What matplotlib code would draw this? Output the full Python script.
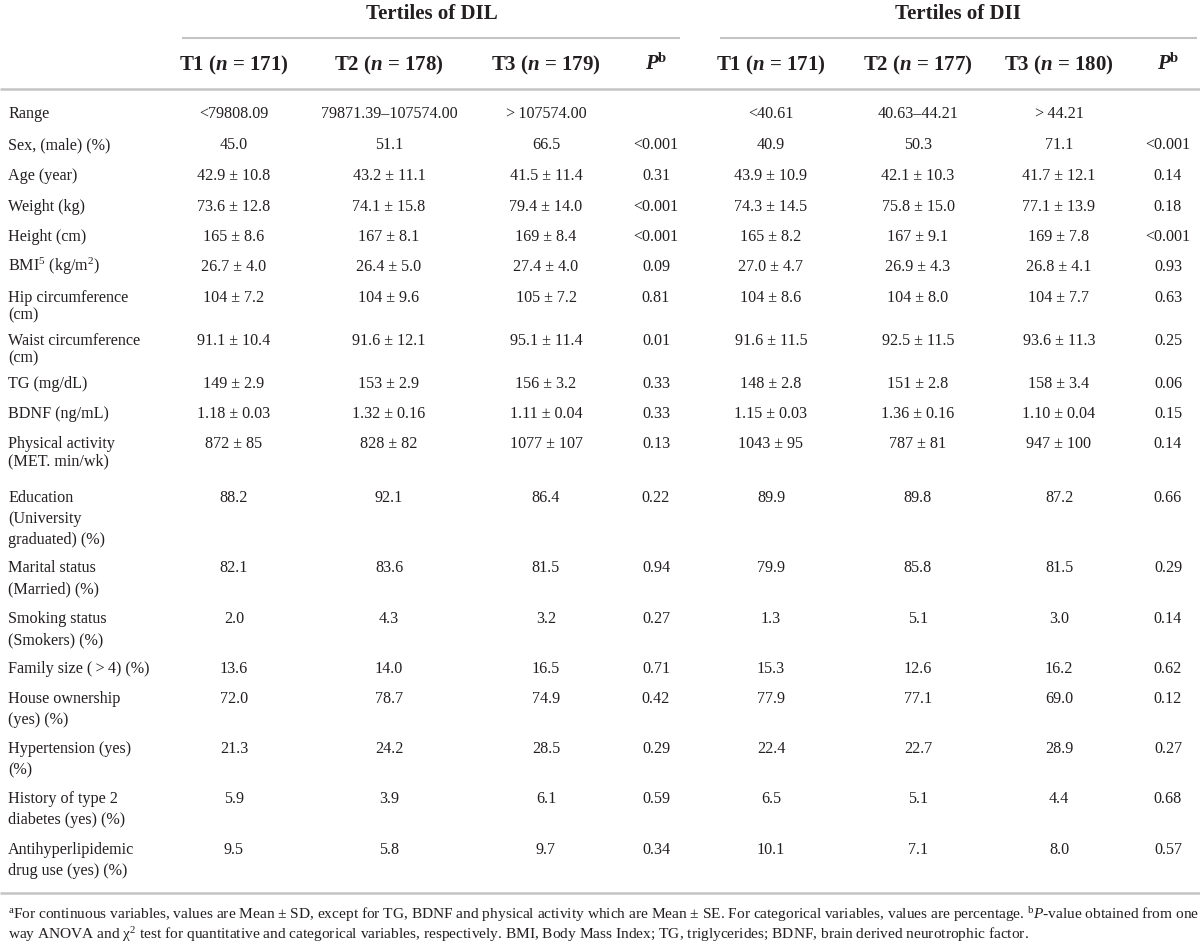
import matplotlib
matplotlib.use('Agg')
import matplotlib.pyplot as plt

plt.rcParams['font.family'] = ['Liberation Serif', 'DejaVu Serif']
plt.rcParams['mathtext.fontset'] = 'custom'
plt.rcParams['mathtext.rm'] = 'Liberation Serif'
plt.rcParams['mathtext.it'] = 'Liberation Serif:italic'
plt.rcParams['mathtext.bf'] = 'Liberation Serif:bold'
plt.rcParams['mathtext.bfit'] = 'Liberation Serif:italic:bold'

# ---------------- data ----------------
group_titles = ["Tertiles of DIL", "Tertiles of DII"]
col_headers = [r"T1 ($\mathbfit{n}$ = 171)", r"T2 ($\mathbfit{n}$ = 178)",
               r"T3 ($\mathbfit{n}$ = 179)", r"$\mathbfit{P}^{\mathbf{b}}$",
               r"T1 ($\mathbfit{n}$ = 171)", r"T2 ($\mathbfit{n}$ = 177)",
               r"T3 ($\mathbfit{n}$ = 180)", r"$\mathbfit{P}^{\mathbf{b}}$"]

row_labels = [
    ["Range"],
    ["Sex, (male) (%)"],
    ["Age (year)"],
    ["Weight (kg)"],
    ["Height (cm)"],
    [r"BMI$^{5}$ (kg/m$^{2}$)"],
    ["Hip circumference", "(cm)"],
    ["Waist circumference", "(cm)"],
    ["TG (mg/dL)"],
    ["BDNF (ng/mL)"],
    ["Physical activity", "(MET. min/wk)"],
    ["Education", "(University", "graduated) (%)"],
    ["Marital status", "(Married) (%)"],
    ["Smoking status", "(Smokers) (%)"],
    ["Family size (\u2009>\u20094) (%)"],
    ["House ownership", "(yes) (%)"],
    ["Hypertension (yes)", "(%)"],
    ["History of type 2", "diabetes (yes) (%)"],
    ["Antihyperlipidemic", "drug use (yes) (%)"],
]

dil_t1 = ["<79808.09", "45.0", "42.9 ± 10.8", "73.6 ± 12.8", "165 ± 8.6", "26.7 ± 4.0",
          "104 ± 7.2", "91.1 ± 10.4", "149 ± 2.9", "1.18 ± 0.03", "872 ± 85", "88.2",
          "82.1", "2.0", "13.6", "72.0", "21.3", "5.9", "9.5"]
dil_t2 = ["79871.39–107574.00", "51.1", "43.2 ± 11.1", "74.1 ± 15.8", "167 ± 8.1", "26.4 ± 5.0",
          "104 ± 9.6", "91.6 ± 12.1", "153 ± 2.9", "1.32 ± 0.16", "828 ± 82", "92.1",
          "83.6", "4.3", "14.0", "78.7", "24.2", "3.9", "5.8"]
dil_t3 = [">\u2009107574.00", "66.5", "41.5 ± 11.4", "79.4 ± 14.0", "169 ± 8.4", "27.4 ± 4.0",
          "105 ± 7.2", "95.1 ± 11.4", "156 ± 3.2", "1.11 ± 0.04", "1077 ± 107", "86.4",
          "81.5", "3.2", "16.5", "74.9", "28.5", "6.1", "9.7"]
dil_p = ["", "<0.001", "0.31", "<0.001", "<0.001", "0.09", "0.81", "0.01", "0.33", "0.33",
         "0.13", "0.22", "0.94", "0.27", "0.71", "0.42", "0.29", "0.59", "0.34"]
dii_t1 = ["<40.61", "40.9", "43.9 ± 10.9", "74.3 ± 14.5", "165 ± 8.2", "27.0 ± 4.7",
          "104 ± 8.6", "91.6 ± 11.5", "148 ± 2.8", "1.15 ± 0.03", "1043 ± 95", "89.9",
          "79.9", "1.3", "15.3", "77.9", "22.4", "6.5", "10.1"]
dii_t2 = ["40.63–44.21", "50.3", "42.1 ± 10.3", "75.8 ± 15.0", "167 ± 9.1", "26.9 ± 4.3",
          "104 ± 8.0", "92.5 ± 11.5", "151 ± 2.8", "1.36 ± 0.16", "787 ± 81", "89.8",
          "85.8", "5.1", "12.6", "77.1", "22.7", "5.1", "7.1"]
dii_t3 = [">\u200944.21", "71.1", "41.7 ± 12.1", "77.1 ± 13.9", "169 ± 7.8", "26.8 ± 4.1",
          "104 ± 7.7", "93.6 ± 11.3", "158 ± 3.4", "1.10 ± 0.04", "947 ± 100", "87.2",
          "81.5", "3.0", "16.2", "69.0", "28.9", "4.4", "8.0"]
dii_p = ["", "<0.001", "0.14", "0.18", "<0.001", "0.93", "0.63", "0.25", "0.06", "0.15",
         "0.14", "0.66", "0.29", "0.14", "0.62", "0.12", "0.27", "0.68", "0.57"]

footnotes = [
    r"$^{\mathrm{a}}$For continuous variables, values are Mean ± SD, except for TG, BDNF and physical activity which are Mean ± SE. For categorical variables, values are percentage. $^{\mathrm{b}}\mathit{P}$-value obtained from one",
    r"way ANOVA and χ$^{2}$ test for quantitative and categorical variables, respectively. BMI, Body Mass Index; TG, triglycerides; BDNF, brain derived neurotrophic factor.",
]

columns = [dil_t1, dil_t2, dil_t3, dil_p, dii_t1, dii_t2, dii_t3, dii_p]

# ---------------- layout ----------------
W, H = 1200, 946
col_x = [234, 389, 546, 656, 771, 918, 1059, 1168]
group_x = [432, 958]
row_y = [113, 144, 175, 206, 236, 266, 297, 340, 383, 413, 443,
         497, 567, 618, 668, 698, 748, 798, 849]
line_gap_top = 17     # line spacing for wrapped labels in upper block
line_gap_bot = 21     # line spacing in lower block
label_x = 8
body_size = 11.6
head_size = 15
txt_color = '#231f20'
rule_color = '#c4c4c4'

fig = plt.figure(figsize=(W / 100, H / 100), dpi=100)
ax = fig.add_axes([0, 0, 1, 1])
ax.set_xlim(0, W)
ax.set_ylim(H, 0)
ax.axis('off')

base_off = 5.0   # center -> baseline offset for body text

# group titles
for gx, gt in zip(group_x, group_titles):
    ax.text(gx, 19, gt, ha='center', va='baseline', fontsize=head_size,
            fontweight='bold', color=txt_color)
# group rules
ax.plot([182, 680], [38, 38], color=rule_color, lw=1.5, solid_capstyle='butt')
ax.plot([720, 1197], [38, 38], color=rule_color, lw=1.5, solid_capstyle='butt')
# column headers
for cx, ch in zip(col_x, col_headers):
    ax.text(cx, 70, ch, ha='center', va='baseline', fontsize=head_size,
            fontweight='bold', color=txt_color)
ax.plot([0, W], [89, 89], color=rule_color, lw=1.8, solid_capstyle='butt')

# rows
for i, (lab, y) in enumerate(zip(row_labels, row_y)):
    gap = line_gap_top if i <= 10 else line_gap_bot
    for k, line in enumerate(lab):
        ax.text(label_x, y + base_off + k * gap, line, ha='left', va='baseline',
                fontsize=body_size, color=txt_color)
    for cx, col in zip(col_x, columns):
        if col[i]:
            ax.text(cx, y + base_off, col[i], ha='center', va='baseline',
                    fontsize=body_size, color=txt_color)

ax.plot([0, W], [893, 893], color=rule_color, lw=1.8, solid_capstyle='butt')

# footnotes, sized to span the table width
renderer = fig.canvas.get_renderer()
fn_size = 10.0
t = ax.text(label_x, 919, footnotes[0], ha='left', va='baseline', fontsize=fn_size,
            color=txt_color)
w = t.get_window_extent(renderer).width
fn_size = fn_size * (1187 / w)
t.set_fontsize(fn_size)
ax.text(label_x, 939, footnotes[1], ha='left', va='baseline', fontsize=fn_size,
        color=txt_color)

fig.savefig('out.png', dpi=100, facecolor='white')
